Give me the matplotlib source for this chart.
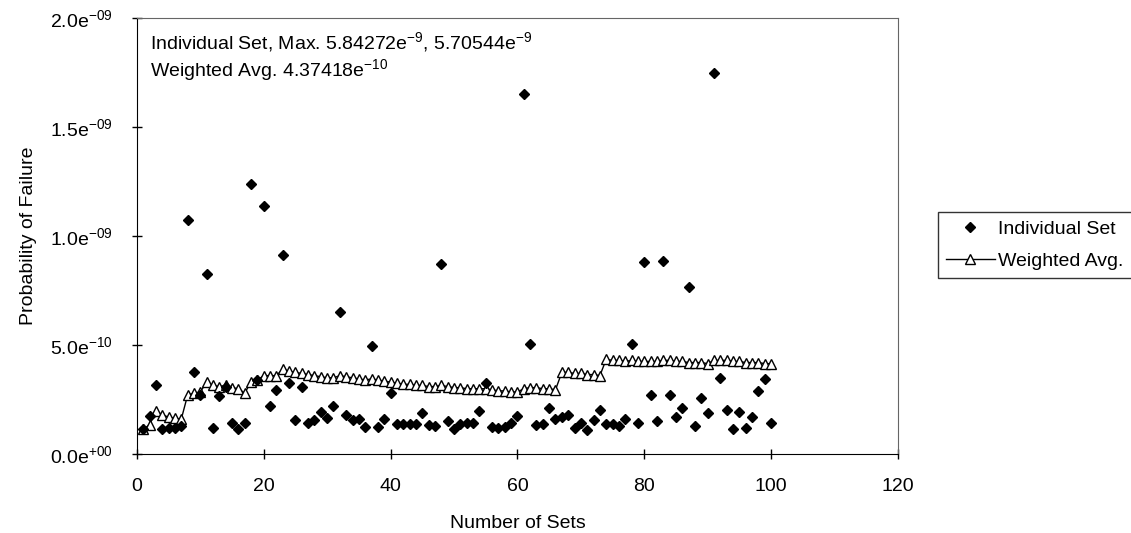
import numpy as np
import matplotlib
matplotlib.use('Agg')
from matplotlib import pyplot as plt

plt.rcParams['font.family'] = ['Liberation Sans', 'DejaVu Sans']
plt.rcParams['mathtext.default'] = 'regular'

##################
# Data (values in units of 1e-10)
sets = np.arange(1, 101)

individual = [1.15, 1.77, 3.17, 1.13, 1.20, 1.22, 1.30, 10.76, 3.76, 2.70,
              8.26, 1.22, 2.66, 3.10, 1.44, 1.13, 1.41, 12.40, 3.40, 11.40,
              2.20, 2.93, 9.14, 3.24, 1.56, 3.10, 1.41, 1.56, 1.94, 1.64,
              2.20, 6.53, 1.79, 1.56, 1.59, 1.25, 4.98, 1.25, 1.59, 2.82,
              1.40, 1.40, 1.40, 1.40, 1.87, 1.35, 1.30, 8.72, 1.50, 1.15,
              1.40, 1.42, 1.45, 1.97, 3.25, 1.25, 1.20, 1.25, 1.41, 1.75,
              16.50, 5.05, 1.35, 1.40, 2.13, 1.60, 1.70, 1.79, 1.20, 1.41,
              1.10, 1.58, 2.03, 1.40, 1.40, 1.28, 1.60, 5.07, 1.43, 8.80,
              2.70, 1.53, 8.87, 2.70, 1.70, 2.10, 7.65, 1.30, 2.58, 1.87,
              17.50, 3.47, 2.02, 1.13, 1.94, 1.18, 1.68, 2.90, 3.43, 1.45]

weighted = [1.13, 1.35, 2.00, 1.80, 1.70, 1.65, 1.60, 2.70, 2.80, 2.85,
            3.30, 3.15, 3.10, 3.15, 3.05, 3.00, 2.80, 3.30, 3.40, 3.60,
            3.60, 3.60, 3.90, 3.80, 3.75, 3.70, 3.65, 3.60, 3.55, 3.50,
            3.50, 3.60, 3.55, 3.50, 3.45, 3.40, 3.45, 3.40, 3.35, 3.30,
            3.25, 3.20, 3.20, 3.15, 3.15, 3.10, 3.10, 3.15, 3.10, 3.05,
            3.05, 3.00, 3.00, 3.00, 3.00, 2.95, 2.90, 2.90, 2.85, 2.85,
            3.00, 3.05, 3.05, 3.00, 3.00, 2.95, 3.75, 3.75, 3.70, 3.70,
            3.65, 3.65, 3.60, 4.35, 4.30, 4.30, 4.25, 4.30, 4.25, 4.25,
            4.25, 4.25, 4.30, 4.30, 4.25, 4.25, 4.20, 4.20, 4.20, 4.15,
            4.30, 4.30, 4.30, 4.25, 4.25, 4.20, 4.20, 4.20, 4.15, 4.15]

individual = np.array(individual)*1e-10
weighted = np.array(weighted)*1e-10

yticks = [0.0, 5e-10, 1e-9, 1.5e-9, 2e-9]
ytick_labels = ['0.0e$^{+00}$', '5.0e$^{-10}$', '1.0e$^{-09}$', '1.5e$^{-09}$', '2.0e$^{-09}$']
xticks = [0, 20, 40, 60, 80, 100, 120]

###################
# Plot
fig = plt.figure(figsize=(11.31, 5.33), dpi=100)
ax = fig.add_axes([0.121, 0.148, 0.673, 0.818])

ax.plot(sets, individual, linestyle='none', marker='D', ms=5.5,
        color='k', label='Individual Set', zorder=3)
ax.plot(sets, weighted, color='k', lw=1, marker='^', ms=6.5,
        markerfacecolor='white', markeredgecolor='k', markeredgewidth=1,
        label='Weighted Avg.', zorder=2)

ax.set_xlim(0, 120)
ax.set_ylim(0, 2e-9)
ax.set_xticks(xticks)
ax.set_yticks(yticks)
ax.set_yticklabels(ytick_labels)
ax.tick_params(direction='inout', length=7, labelsize=14, width=1)
ax.tick_params(axis='x', pad=14)
ax.tick_params(axis='y', pad=14)
for s in ['top', 'right']:
    ax.spines[s].set_color('#666666')
    ax.spines[s].set_linewidth(0.8)

ax.set_xlabel('Number of Sets', fontsize=14, labelpad=14)
ax.set_ylabel('Probability of Failure', fontsize=14, labelpad=9)

ax.text(0.017, 0.945, 'Individual Set, Max. 5.84272e$^{-9}$, 5.70544e$^{-9}$',
        transform=ax.transAxes, fontsize=14, va='center')
ax.text(0.017, 0.88, 'Weighted Avg. 4.37418e$^{-10}$',
        transform=ax.transAxes, fontsize=14, va='center')

leg = ax.legend(loc='center left', bbox_to_anchor=(1.04, 0.48), fontsize=14,
                frameon=True, fancybox=False, edgecolor='k', borderpad=0.4,
                handlelength=2.5, handletextpad=0.2, labelspacing=0.75)
leg.get_frame().set_linewidth(1)

plt.savefig('out.png', dpi=100)
